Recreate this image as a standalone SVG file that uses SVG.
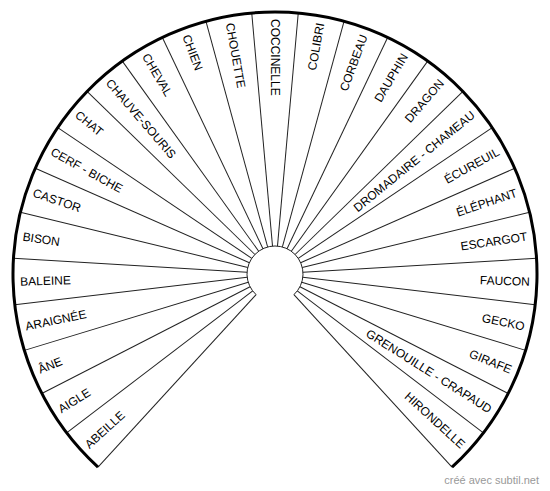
<svg xmlns="http://www.w3.org/2000/svg" width="550" height="491" viewBox="0 0 550 491">
<style>
.sep{stroke:#222;stroke-width:1;fill:none}
.rim{stroke:#000;stroke-width:3;fill:none}
.hub{stroke:#222;stroke-width:1;fill:none}
.lbl{font-family:"Liberation Sans",Arial,sans-serif;font-size:12px;fill:#000}
.l{text-anchor:start}
.r{text-anchor:end}
.wm{font-family:"Liberation Sans",Arial,sans-serif;font-size:11px;fill:#999;text-anchor:end}
</style>
<rect width="550" height="491" fill="#fff"/>
<g id="connectors" transform="translate(275 274)">
<line class="sep" x1="28" y1="0" x2="262" y2="0" transform="rotate(-227.5)"/>
<line class="sep" x1="28" y1="0" x2="262" y2="0" transform="rotate(-217.3148)"/>
<line class="sep" x1="28" y1="0" x2="262" y2="0" transform="rotate(-207.1296)"/>
<line class="sep" x1="28" y1="0" x2="262" y2="0" transform="rotate(-196.9444)"/>
<line class="sep" x1="28" y1="0" x2="262" y2="0" transform="rotate(-186.7593)"/>
<line class="sep" x1="28" y1="0" x2="262" y2="0" transform="rotate(-176.5741)"/>
<line class="sep" x1="28" y1="0" x2="262" y2="0" transform="rotate(-166.3889)"/>
<line class="sep" x1="28" y1="0" x2="262" y2="0" transform="rotate(-156.2037)"/>
<line class="sep" x1="28" y1="0" x2="262" y2="0" transform="rotate(-146.0185)"/>
<line class="sep" x1="28" y1="0" x2="262" y2="0" transform="rotate(-135.8333)"/>
<line class="sep" x1="28" y1="0" x2="262" y2="0" transform="rotate(-125.6481)"/>
<line class="sep" x1="28" y1="0" x2="262" y2="0" transform="rotate(-115.4630)"/>
<line class="sep" x1="28" y1="0" x2="262" y2="0" transform="rotate(-105.2778)"/>
<line class="sep" x1="28" y1="0" x2="262" y2="0" transform="rotate(-95.0926)"/>
<line class="sep" x1="28" y1="0" x2="262" y2="0" transform="rotate(-84.9074)"/>
<line class="sep" x1="28" y1="0" x2="262" y2="0" transform="rotate(-74.7222)"/>
<line class="sep" x1="28" y1="0" x2="262" y2="0" transform="rotate(-64.5370)"/>
<line class="sep" x1="28" y1="0" x2="262" y2="0" transform="rotate(-54.3519)"/>
<line class="sep" x1="28" y1="0" x2="262" y2="0" transform="rotate(-44.1667)"/>
<line class="sep" x1="28" y1="0" x2="262" y2="0" transform="rotate(-33.9815)"/>
<line class="sep" x1="28" y1="0" x2="262" y2="0" transform="rotate(-23.7963)"/>
<line class="sep" x1="28" y1="0" x2="262" y2="0" transform="rotate(-13.6111)"/>
<line class="sep" x1="28" y1="0" x2="262" y2="0" transform="rotate(-3.4259)"/>
<line class="sep" x1="28" y1="0" x2="262" y2="0" transform="rotate(6.7593)"/>
<line class="sep" x1="28" y1="0" x2="262" y2="0" transform="rotate(16.9444)"/>
<line class="sep" x1="28" y1="0" x2="262" y2="0" transform="rotate(27.1296)"/>
<line class="sep" x1="28" y1="0" x2="262" y2="0" transform="rotate(37.3148)"/>
<line class="sep" x1="28" y1="0" x2="262" y2="0" transform="rotate(47.5)"/>
</g>
<g id="frame">
<path class="rim" d="M 98 467.17 A 262 262 0 1 1 452 467.17"/>
<path class="hub" d="M 256.08 294.64 A 28 28 0 1 1 293.92 294.64"/>
</g>
<g id="labels">
<g id="n-abeille"><text class="lbl l" transform="translate(275 274) rotate(-42.4074)" x="-255" dy="4.3">ABEILLE</text></g>
<g id="n-aigle"><text class="lbl l" transform="translate(275 274) rotate(-32.2222)" x="-255" dy="4.3">AIGLE</text></g>
<g id="n-ane"><text class="lbl l" transform="translate(275 274) rotate(-22.0370)" x="-255" dy="4.3">ÂNE</text></g>
<g id="n-araignee"><text class="lbl l" transform="translate(275 274) rotate(-11.8519)" x="-255" dy="4.3">ARAIGNÉE</text></g>
<g id="n-baleine"><text class="lbl l" transform="translate(275 274) rotate(-1.6667)" x="-255" dy="4.3">BALEINE</text></g>
<g id="n-bison"><text class="lbl l" transform="translate(275 274) rotate(8.5185)" x="-255" dy="4.3">BISON</text></g>
<g id="n-castor"><text class="lbl l" transform="translate(275 274) rotate(18.7037)" x="-255" dy="4.3">CASTOR</text></g>
<g id="n-cerf"><text class="lbl l" transform="translate(275 274) rotate(28.8889)" x="-255" dy="4.3">CERF - BICHE</text></g>
<g id="n-chat"><text class="lbl l" transform="translate(275 274) rotate(39.0741)" x="-255" dy="4.3">CHAT</text></g>
<g id="n-chauvesouris"><text class="lbl l" transform="translate(275 274) rotate(49.2593)" x="-255" dy="4.3">CHAUVE-SOURIS</text></g>
<g id="n-cheval"><text class="lbl l" transform="translate(275 274) rotate(59.4444)" x="-255" dy="4.3">CHEVAL</text></g>
<g id="n-chien"><text class="lbl l" transform="translate(275 274) rotate(69.6296)" x="-255" dy="4.3">CHIEN</text></g>
<g id="n-chouette"><text class="lbl l" transform="translate(275 274) rotate(79.8148)" x="-255" dy="4.3">CHOUETTE</text></g>
<g id="n-coccinelle"><text class="lbl l" transform="translate(275 274) rotate(90)" x="-255" dy="4.3">COCCINELLE</text></g>
<g id="n-colibri"><text class="lbl r" transform="translate(275 274) rotate(-79.8148)" x="255" dy="4.3">COLIBRI</text></g>
<g id="n-corbeau"><text class="lbl r" transform="translate(275 274) rotate(-69.6296)" x="255" dy="4.3">CORBEAU</text></g>
<g id="n-dauphin"><text class="lbl r" transform="translate(275 274) rotate(-59.4444)" x="255" dy="4.3">DAUPHIN</text></g>
<g id="n-dragon"><text class="lbl r" transform="translate(275 274) rotate(-49.2593)" x="255" dy="4.3">DRAGON</text></g>
<g id="n-dromadaire"><text class="lbl r" transform="translate(275 274) rotate(-39.0741)" x="255" dy="4.3">DROMADAIRE - CHAMEAU</text></g>
<g id="n-ecureuil"><text class="lbl r" transform="translate(275 274) rotate(-28.8889)" x="255" dy="4.3">ÉCUREUIL</text></g>
<g id="n-elephant"><text class="lbl r" transform="translate(275 274) rotate(-18.7037)" x="255" dy="4.3">ÉLÉPHANT</text></g>
<g id="n-escargot"><text class="lbl r" transform="translate(275 274) rotate(-8.5185)" x="255" dy="4.3">ESCARGOT</text></g>
<g id="n-faucon"><text class="lbl r" transform="translate(275 274) rotate(1.6667)" x="255" dy="4.3">FAUCON</text></g>
<g id="n-gecko"><text class="lbl r" transform="translate(275 274) rotate(11.8519)" x="255" dy="4.3">GECKO</text></g>
<g id="n-girafe"><text class="lbl r" transform="translate(275 274) rotate(22.0370)" x="255" dy="4.3">GIRAFE</text></g>
<g id="n-grenouille"><text class="lbl r" transform="translate(275 274) rotate(32.2222)" x="255" dy="4.3">GRENOUILLE - CRAPAUD</text></g>
<g id="n-hirondelle"><text class="lbl r" transform="translate(275 274) rotate(42.4074)" x="255" dy="4.3">HIRONDELLE</text></g>
</g>
<text class="wm" x="539" y="484">créé avec subtil.net</text>
</svg>
